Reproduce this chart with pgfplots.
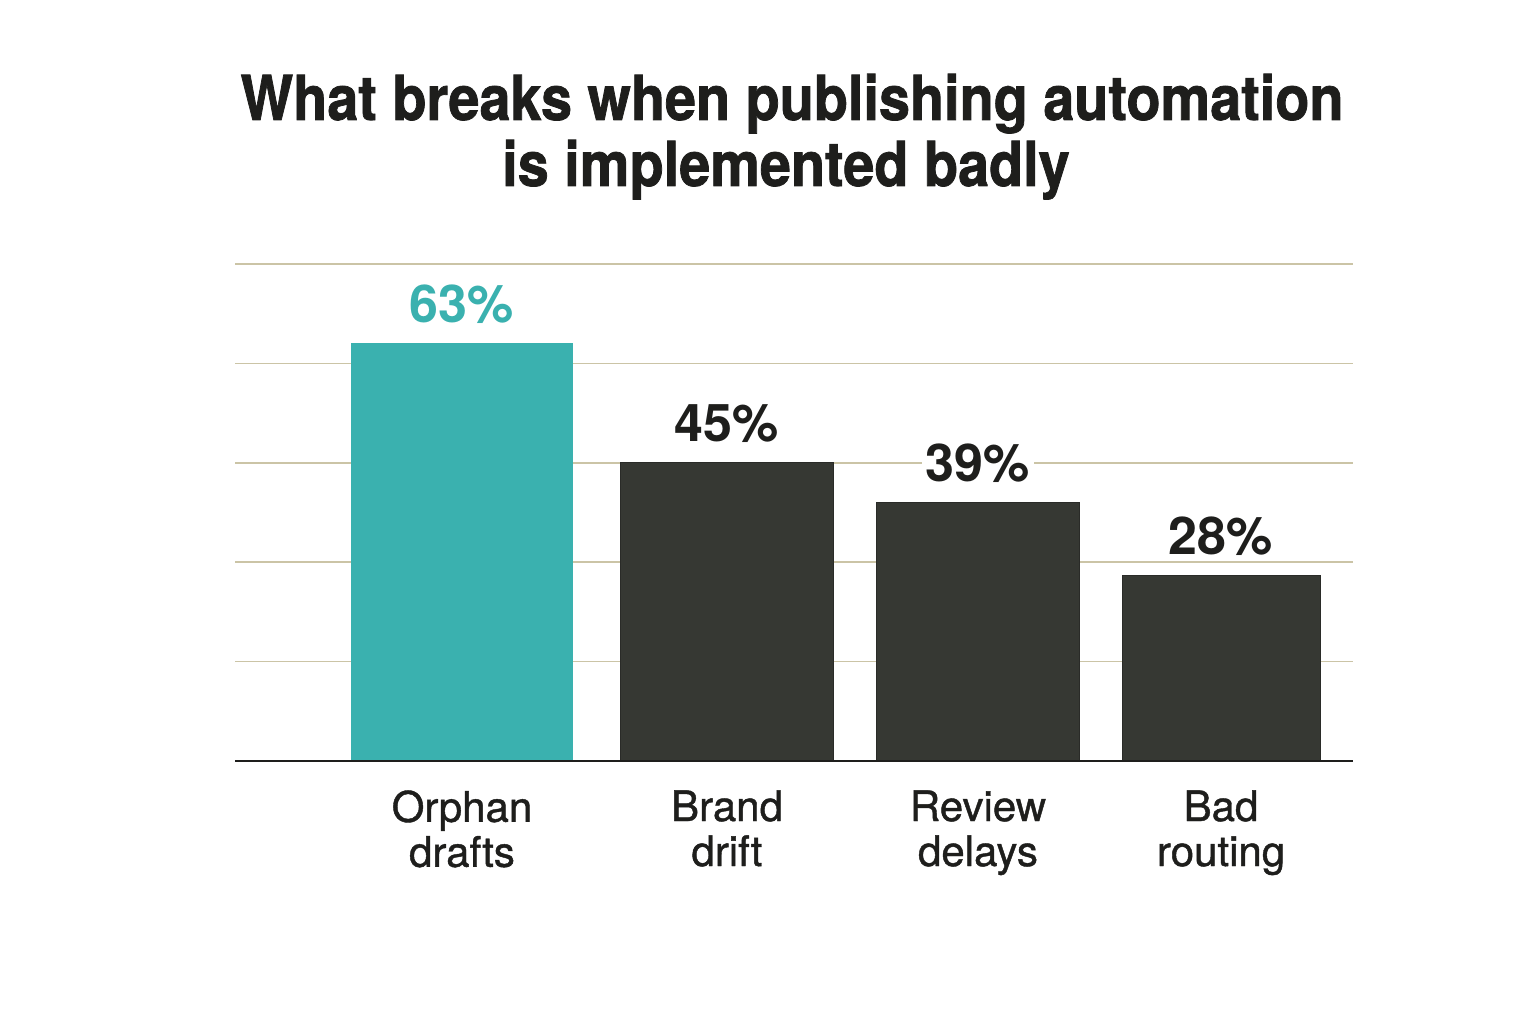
\documentclass[border=0pt]{standalone}
\usepackage{pgfplots}
\pgfplotsset{compat=1.18}
\usepackage{fontspec}
\setmainfont{TeX Gyre Heros}
\newfontfamily\titlefont[FakeStretch=0.9, FakeBold=1.2]{TeX Gyre Heros}
\newfontfamily\labelfont[FakeBold=1.0]{TeX Gyre Heros}

\definecolor{tealbar}{HTML}{3AB1AF}
\definecolor{darkbar}{HTML}{363833}
\definecolor{darkedge}{HTML}{2A2B28}
\definecolor{gridc}{HTML}{CBC4A6}
\definecolor{inkc}{HTML}{1E1E1C}

\begin{document}
\begin{tikzpicture}
\path[fill=white] (0,0) rectangle (768pt,512pt);
\node[anchor=base, text=inkc, font=\titlefont\bfseries\fontsize{31}{36}\selectfont]
  at (396pt,452pt) {What breaks when publishing automation};
\node[anchor=base, text=inkc, font=\titlefont\bfseries\fontsize{31}{36}\selectfont]
  at (393pt,419pt) {is implemented badly};

\begin{axis}[
    at={(117.5pt,131.5pt)}, anchor=south west,
    scale only axis,
    width=559pt, height=248.5pt,
    xmin=2.35, xmax=13.53,
    ymin=0, ymax=75,
    ytick={15,30,45,60,75}, yticklabels={},
    xtick={4.62,7.27,9.78,12.21},
    xticklabels={{Orphan\\drafts},{Brand\\drift},{Review\\delays},{Bad\\routing}},
    xticklabel style={align=center, text=inkc, inner sep=0pt, anchor=north, yshift=-14.5pt,
        font=\labelfont\fontsize{21}{22.5}\selectfont},
    major tick length=0pt,
    axis line style={draw=none},
    ymajorgrids=true,
    grid style={gridc, line width=0.75pt},
    clip=false,
    /pgf/number format/assume math mode=true,
    every node near coord/.style={font=\bfseries\fontsize{26}{28}\selectfont,
        fill=white, inner sep=2pt, anchor=south, yshift=8pt},
]

% Orphan drafts (highlighted)
\addplot[ybar, bar shift=0pt, bar width=2.21, fill=tealbar, draw=tealbar,
    nodes near coords={\pgfmathprintnumber{\pgfplotspointmeta}\%},
    nodes near coords style={text=tealbar}]
coordinates {(4.62,63)};

\addplot[ybar, bar shift=0pt, bar width=2.13, fill=darkbar, draw=darkedge,
    nodes near coords={\pgfmathprintnumber{\pgfplotspointmeta}\%},
    nodes near coords style={text=inkc}]
coordinates {(7.27,45)};

\addplot[ybar, bar shift=0pt, bar width=2.03, fill=darkbar, draw=darkedge,
    nodes near coords={\pgfmathprintnumber{\pgfplotspointmeta}\%},
    nodes near coords style={text=inkc}]
coordinates {(9.78,39)};

\addplot[ybar, bar shift=0pt, bar width=1.98, fill=darkbar, draw=darkedge,
    nodes near coords={\pgfmathprintnumber{\pgfplotspointmeta}\%},
    nodes near coords style={text=inkc}]
coordinates {(12.21,28)};

% baseline
\draw[inkc, line width=1pt] (rel axis cs:0,0) -- (rel axis cs:1,0);
\end{axis}
\end{tikzpicture}
\end{document}
